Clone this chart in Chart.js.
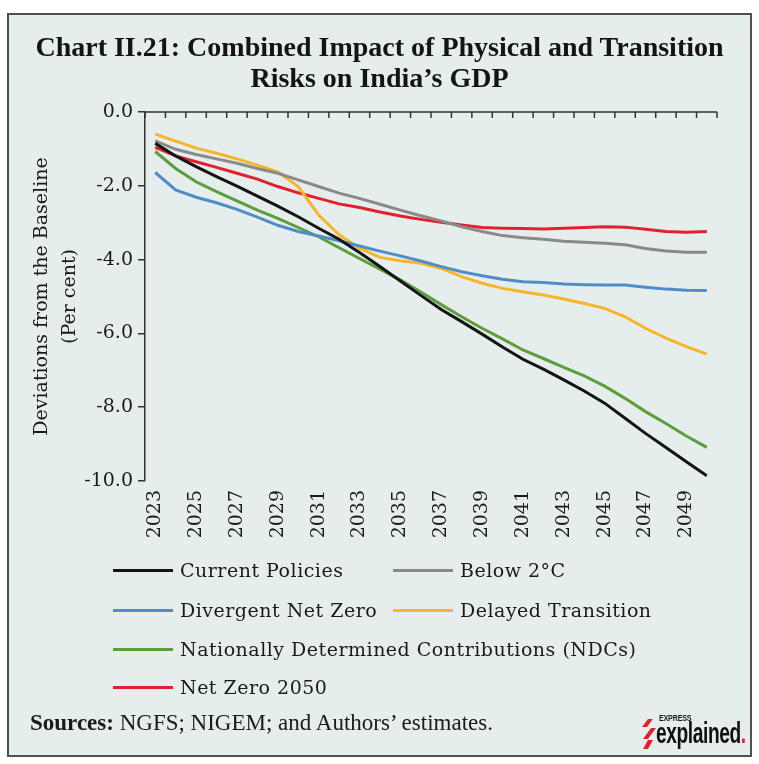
<!DOCTYPE html>
<html>
<head>
<meta charset="utf-8">
<script src="https://cdn.jsdelivr.net/npm/chart.js@4.4.1/dist/chart.umd.min.js"></script>
<style>
  html, body { margin:0; padding:0; background:#ffffff; width:759px; height:764px; overflow:hidden; }
  #frame { position:absolute; left:7px; top:13px; width:745px; height:744px; box-sizing:border-box;
           border:2px solid #4f4f4f; background:#e6eeed; }
  #c { position:absolute; left:0; top:0; }
  #title { position:absolute; left:0; top:31px; width:759px; text-align:center;
           font-family:'Liberation Serif', serif; font-weight:bold; font-size:28px; line-height:31px; color:#141414; }
  .lg { position:absolute; height:24px; display:flex; align-items:center; white-space:nowrap;
        font-family:'DejaVu Serif', serif; font-size:19px; color:#1a1a1a; letter-spacing:0.5px; }
  .lg .sw { display:inline-block; width:60px; height:3px; margin-right:7px; }
  #sources { position:absolute; left:30px; top:710px; font-family:'Liberation Serif', serif; font-size:23px; color:#1a1a1a; white-space:nowrap; }
  #sources b { font-weight:bold; }
  #logo { position:absolute; left:638px; top:708px; width:112px; height:44px; }
  #logo .exp { position:absolute; left:21px; top:5px; font-family:'Liberation Sans',sans-serif; font-weight:bold; font-size:9px; letter-spacing:-0.3px; color:#1a1a1a; transform:scaleX(0.8); transform-origin:left top; }
  #logo .expl { position:absolute; left:18px; top:10px; font-family:'Liberation Sans',sans-serif; font-weight:bold; font-size:29px; letter-spacing:-0.6px; line-height:31px; color:#111; transform:scaleX(0.66); transform-origin:left top; white-space:nowrap; }
  #logo .expl span { color:#e3202e; }
  #logo svg { position:absolute; left:2px; top:11px; }
</style>
</head>
<body>
<div id="frame"></div>
<canvas id="c" width="759" height="764"></canvas>
<div id="title">Chart II.21: Combined Impact of Physical and Transition<br>Risks on India’s GDP</div>
<div id="legend"></div>
<div id="sources"><b>Sources:</b> NGFS; NIGEM; and Authors’ estimates.</div>
<div id="logo">
  <svg width="17" height="31" viewBox="0 0 17 31">
    <polygon points="8,0 13,0 7,8 2,8" fill="#e3202e"/>
    <polygon points="11,9 16,9 8,20 3,20" fill="#e3202e"/>
    <polygon points="8,21 13,21 8,30 3,30" fill="#e3202e"/>
  </svg>
  <div class="exp">EXPRESS</div>
  <div class="expl">explained<span>.</span></div>
</div>
<script>
// ---- data ----
const years = ['2023','2024','2025','2026','2027','2028','2029','2030','2031','2032','2033','2034','2035','2036',
               '2037','2038','2039','2040','2041','2042','2043','2044','2045','2046','2047','2048','2049','2050'];
const seriesNames = ['Current Policies','Below 2°C','Divergent Net Zero','Delayed Transition',
                     'Nationally Determined Contributions (NDCs)','Net Zero 2050'];
const currentPolicies   = [-0.85,-1.19,-1.48,-1.75,-2.01,-2.28,-2.55,-2.84,-3.15,-3.45,-3.81,-4.19,-4.58,-4.97,-5.35,-5.68,-6.02,-6.37,-6.70,-6.97,-7.26,-7.56,-7.89,-8.30,-8.71,-9.09,-9.48,-9.86];
const below2C           = [-0.78,-1.01,-1.15,-1.27,-1.39,-1.53,-1.66,-1.84,-2.02,-2.20,-2.34,-2.50,-2.66,-2.81,-2.95,-3.11,-3.24,-3.35,-3.41,-3.45,-3.50,-3.53,-3.56,-3.60,-3.70,-3.77,-3.80,-3.80];
const divergentNetZero  = [-1.64,-2.11,-2.31,-2.46,-2.64,-2.85,-3.07,-3.24,-3.36,-3.49,-3.63,-3.77,-3.90,-4.04,-4.19,-4.33,-4.44,-4.53,-4.60,-4.62,-4.66,-4.68,-4.69,-4.69,-4.75,-4.80,-4.83,-4.84];
const delayedTransition = [-0.60,-0.79,-0.98,-1.12,-1.27,-1.44,-1.62,-2.02,-2.79,-3.33,-3.69,-3.94,-4.03,-4.10,-4.24,-4.46,-4.64,-4.78,-4.87,-4.96,-5.07,-5.19,-5.32,-5.55,-5.86,-6.13,-6.36,-6.56];
const ndcs              = [-1.07,-1.53,-1.89,-2.16,-2.41,-2.66,-2.88,-3.13,-3.38,-3.68,-3.97,-4.26,-4.55,-4.88,-5.22,-5.55,-5.86,-6.15,-6.45,-6.68,-6.92,-7.15,-7.43,-7.76,-8.12,-8.44,-8.78,-9.09];
const netZero2050       = [-0.96,-1.19,-1.35,-1.50,-1.66,-1.82,-2.02,-2.19,-2.34,-2.49,-2.59,-2.71,-2.82,-2.91,-2.99,-3.06,-3.13,-3.15,-3.16,-3.17,-3.15,-3.13,-3.11,-3.12,-3.18,-3.24,-3.26,-3.24];
const yAxisTitle = ['Deviations from the Baseline', '(Per cent)'];

// ---- styles ----
const seriesColors = ['#141414','#8a8a8a','#4d8dc8','#f7b52c','#5c9e3a','#e3202e'];
const seriesValues = [currentPolicies, below2C, divergentNetZero, delayedTransition, ndcs, netZero2050];

const topAxisPlugin = {
  id: 'topAxis',
  beforeDatasetsDraw(chart) {
    const {ctx, chartArea, scales} = chart;
    const xs = scales.x, ys = scales.y;
    const y0 = ys.getPixelForValue(0);
    ctx.save();
    ctx.strokeStyle = '#333333';
    ctx.lineWidth = 1.5;
    ctx.beginPath();
    ctx.moveTo(chartArea.left, y0);
    ctx.lineTo(chartArea.right, y0);
    const n = xs.getLabels().length;
    for (let k = 0; k <= n; k++) {
      const px = xs.getPixelForValue(k - 0.5);
      ctx.moveTo(px, y0);
      ctx.lineTo(px, y0 + 6);
    }
    ctx.stroke();
    ctx.restore();
  }
};

Chart.defaults.font.family = "'DejaVu Serif', serif";
Chart.defaults.font.size = 19;
Chart.defaults.color = '#1a1a1a';

new Chart(document.getElementById('c'), {
  type: 'line',
  data: {
    labels: years,
    datasets: seriesNames.map((name, i) => ({
      label: name,
      data: seriesValues[i],
      borderColor: seriesColors[i],
      backgroundColor: seriesColors[i],
      borderWidth: 3,
      pointRadius: 0,
      tension: 0,
      fill: false
    }))
  },
  options: {
    responsive: false,
    devicePixelRatio: 1,
    animation: false,
    layout: { padding: { top: 112, right: 42, bottom: 223, left: 0 } },
    plugins: { legend: { display: false }, tooltip: { enabled: false } },
    scales: {
      x: {
        offset: true,
        grid: { display: false, drawTicks: false },
        border: { display: false },
        ticks: {
          autoSkip: false, minRotation: 90, maxRotation: 90, padding: 9,
          callback: function(v, i) { return i % 2 === 0 ? this.getLabelForValue(v) : ''; }
        },
        afterFit: (s) => { s.height = 60; }
      },
      y: {
        min: -10, max: 0,
        grid: { drawOnChartArea: false, drawTicks: true, tickLength: 7, color: '#333333', lineWidth: 1.5 },
        border: { display: true, color: '#333333', width: 1.5 },
        ticks: { stepSize: 2, padding: 5, callback: (v) => Number(v).toFixed(1) },
        title: { display: true, text: yAxisTitle, font: { size: 19, lineHeight: 1.47 }, padding: { top: 28, bottom: 0 } },
        afterFit: (s) => { s.width = 145; }
      }
    }
  },
  plugins: [topAxisPlugin]
});

// ---- legend (HTML) ----
const legendPos = [[113,570],[393,570],[113,610],[393,610],[113,649],[113,687]];
const lg = document.getElementById('legend');
seriesNames.forEach((name, i) => {
  const d = document.createElement('div');
  d.className = 'lg';
  d.style.left = legendPos[i][0] + 'px';
  d.style.top = (legendPos[i][1] - 12) + 'px';
  const sw = document.createElement('span');
  sw.className = 'sw';
  sw.style.background = seriesColors[i];
  const t = document.createElement('span');
  t.textContent = name;
  d.appendChild(sw); d.appendChild(t);
  lg.appendChild(d);
});
</script>
</body>
</html>
